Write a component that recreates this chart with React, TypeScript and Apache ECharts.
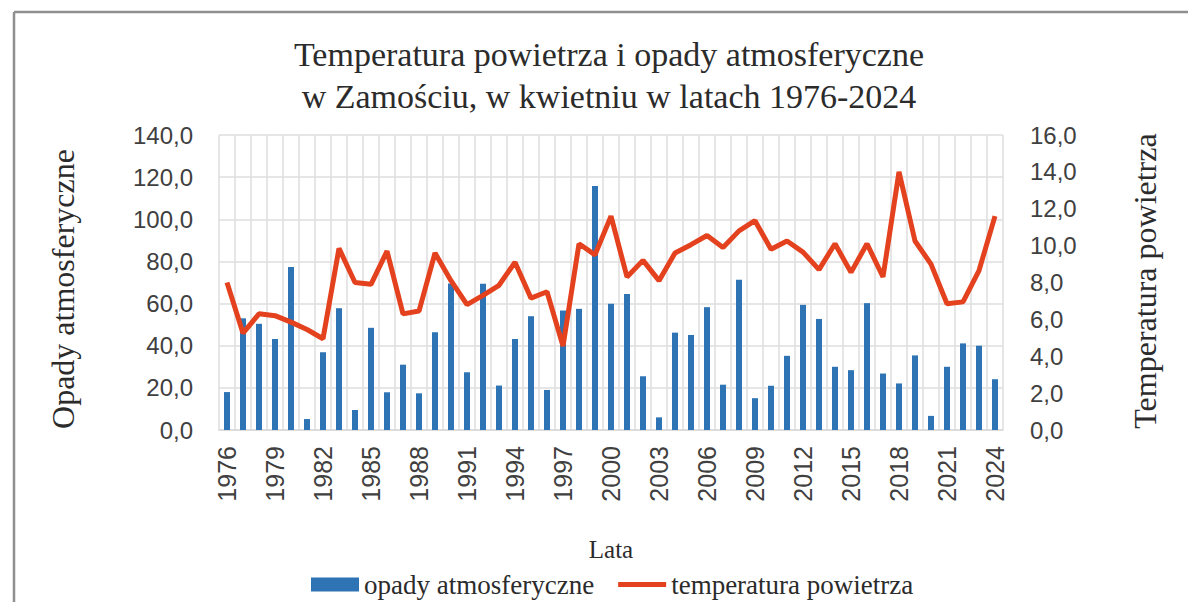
import React, { useEffect, useRef } from "react";
import * as echarts from "echarts";

const years = [
  "1976", "1977", "1978", "1979", "1980", "1981", "1982", "1983", "1984", "1985",
  "1986", "1987", "1988", "1989", "1990", "1991", "1992", "1993", "1994", "1995",
  "1996", "1997", "1998", "1999", "2000", "2001", "2002", "2003", "2004", "2005",
  "2006", "2007", "2008", "2009", "2010", "2011", "2012", "2013", "2014", "2015",
  "2016", "2017", "2018", "2019", "2020", "2021", "2022", "2023", "2024",
];

const precipitation = [
  18, 53, 50.4, 43.2, 77.3, 5.2, 36.9, 57.8, 9.5, 48.5,
  17.9, 31, 17.4, 46.4, 69.5, 27.4, 69.4, 21.1, 43.2, 54,
  19, 56.7, 57.5, 115.8, 59.9, 64.6, 25.5, 6, 46.2, 45.1,
  58.3, 21.5, 71.3, 15.1, 21, 35.2, 59.4, 52.7, 30, 28.4,
  60.2, 26.8, 22.1, 35.4, 6.7, 30, 41.1, 40, 24.1,
];

const temperature = [
  8.0, 5.25, 6.3, 6.2, 5.85, 5.45, 4.95, 9.85, 8.0, 7.9,
  9.7, 6.3, 6.45, 9.6, 8.1, 6.8, 7.3, 7.85, 9.1, 7.15,
  7.5, 4.55, 10.1, 9.5, 11.6, 8.3, 9.2, 8.1, 9.6, 10.05,
  10.55, 9.9, 10.8, 11.35, 9.8, 10.25, 9.65, 8.7, 10.1, 8.55,
  10.1, 8.3, 14.0, 10.25, 9.0, 6.85, 6.95, 8.65, 11.6,
];

const titleLines = [
  "Temperatura powietrza i opady atmosferyczne",
  "w Zamościu, w kwietniu w latach 1976-2024",
];
const seriesNames = ["opady atmosferyczne", "temperatura powietrza"];
const leftAxisName = "Opady atmosferyczne";
const rightAxisName = "Temperatura powietrza";
const xAxisName = "Lata";

const fmt = (v: number) => v.toFixed(1).replace(".", ",");

const SERIF = "'Liberation Serif', 'Times New Roman', serif";
const SANS = "'Liberation Sans', Arial, sans-serif";

export default function App() {
  const ref = useRef<HTMLDivElement>(null);

  useEffect(() => {
    if (!ref.current) return;
    const chart = echarts.init(ref.current, null, { renderer: "svg" });
    chart.setOption({
      animation: false,
      backgroundColor: "#ffffff",
      title: {
        text: titleLines.join("\n"),
        left: 604,
        top: 28,
        textAlign: "center",
        textStyle: {
          fontFamily: SERIF,
          fontSize: 34,
          fontWeight: "normal",
          lineHeight: 42,
          color: "#2b2b2b",
        },
      },
      grid: { left: 219, right: 185, top: 135, bottom: 172, containLabel: false },
      legend: {
        top: 566,
        left: 306,
        itemWidth: 48,
        itemHeight: 14,
        itemGap: 24,
        symbolKeepAspect: true,
        textStyle: { fontFamily: SERIF, fontSize: 27, color: "#2b2b2b" },
        data: [
          { name: seriesNames[0], icon: "rect" },
          { name: seriesNames[1], icon: "path://M0,0H50V5H0Z" },
        ],
      },
      xAxis: {
        type: "category",
        data: years,
        boundaryGap: true,
        axisLine: { show: true, lineStyle: { color: "#d9d9d9", width: 1.5 } },
        axisTick: { show: false },
        axisLabel: {
          interval: 2,
          rotate: 90,
          margin: 16,
          fontFamily: SANS,
          fontSize: 25,
          color: "#404040",
        },
        splitLine: { show: true, interval: 0, lineStyle: { color: "#dedede", width: 1.5 } },
      },
      yAxis: [
        {
          type: "value",
          min: 0,
          max: 140,
          interval: 20,
          axisLine: { show: false },
          axisTick: { show: false },
          axisLabel: {
            formatter: (v: number) => fmt(v),
            margin: 26,
            fontFamily: SANS,
            fontSize: 24,
            color: "#404040",
          },
          splitLine: { show: true, lineStyle: { color: "#dedede", width: 1.5 } },
        },
        {
          type: "value",
          min: 0,
          max: 16,
          interval: 2,
          axisLine: { show: false },
          axisTick: { show: false },
          axisLabel: {
            formatter: (v: number) => fmt(v),
            margin: 27,
            fontFamily: SANS,
            fontSize: 24,
            color: "#404040",
          },
          splitLine: { show: false },
        },
      ],
      series: [
        {
          name: seriesNames[0],
          type: "bar",
          yAxisIndex: 0,
          data: precipitation,
          barWidth: 6,
          itemStyle: { color: "#2E74B5" },
        },
        {
          name: seriesNames[1],
          type: "line",
          yAxisIndex: 1,
          data: temperature,
          symbol: "none",
          lineStyle: { color: "#E4411E", width: 5 },
          itemStyle: { color: "#E4411E" },
        },
      ],
      graphic: [
        {
          type: "line",
          shape: { x1: 14, y1: 12, x2: 1188, y2: 12 },
          style: { stroke: "#8f8f8f", lineWidth: 2.5 },
        },
        {
          type: "line",
          shape: { x1: 14, y1: 12, x2: 14, y2: 602 },
          style: { stroke: "#8f8f8f", lineWidth: 2.5 },
        },
        {
          type: "text",
          x: 63,
          y: 289,
          rotation: Math.PI / 2,
          style: {
            text: leftAxisName,
            fontFamily: SERIF,
            fontSize: 32,
            fill: "#2b2b2b",
            align: "center",
            verticalAlign: "middle",
          },
        },
        {
          type: "text",
          x: 1145,
          y: 281,
          rotation: Math.PI / 2,
          style: {
            text: rightAxisName,
            fontFamily: SERIF,
            fontSize: 32,
            fill: "#2b2b2b",
            align: "center",
            verticalAlign: "middle",
          },
        },
        {
          type: "text",
          x: 611,
          y: 549,
          style: {
            text: xAxisName,
            fontFamily: SERIF,
            fontSize: 25,
            fill: "#2b2b2b",
            align: "center",
            verticalAlign: "middle",
          },
        },
      ],
    });
    return () => chart.dispose();
  }, []);

  return (
    <div
      ref={ref}
      style={{ position: "fixed", left: 0, top: 0, width: 1188, height: 602, background: "#fff" }}
    />
  );
}
